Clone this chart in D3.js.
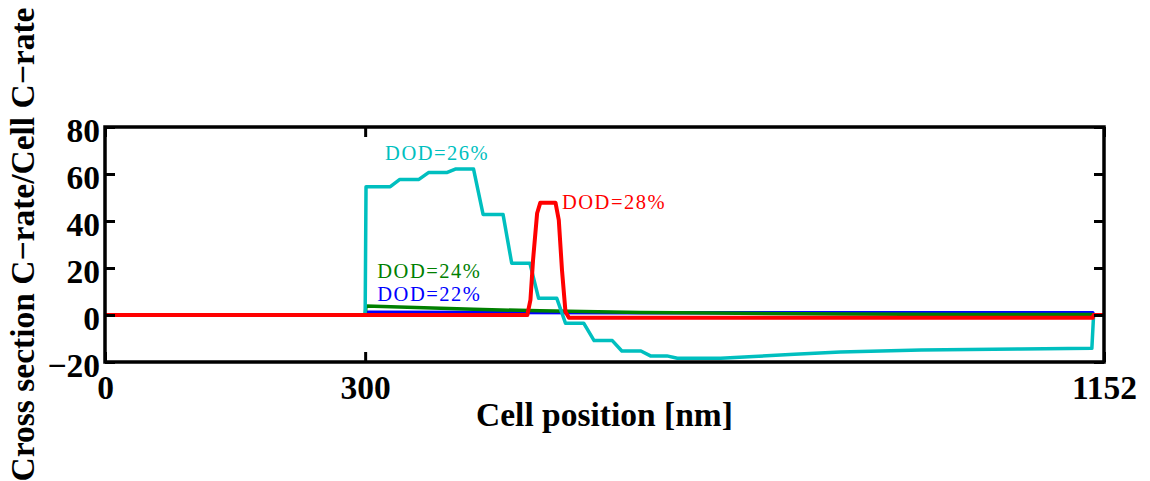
<!DOCTYPE html>
<html>
<head>
<meta charset="utf-8">
<script src="https://cdn.jsdelivr.net/npm/d3@7"></script>
<style>
  html, body { margin: 0; padding: 0; background: #fff; }
  svg { display: block; }
</style>
</head>
<body>
<svg id="chart" width="1150" height="481"></svg>
<script>
// ---- data ----
const xTicks = [0, 300, 1152];
const yTicks = [-20, 0, 20, 40, 60, 80];

const dod22X = [0, 300, 301, 600, 1139, 1140, 1152];
const dod22Y = [0, 0, 1.2, 1.0, 1.0, 0, 0];

const dod24X = [0, 300, 301, 425, 502, 618, 700, 848, 1000, 1139, 1140, 1152];
const dod24Y = [0, 0, 3.8, 2.4, 1.8, 1.1, 0.8, 0.4, 0.25, 0.2, 0, 0];

const dod26X = [0, 300, 301, 329, 340, 362, 373, 394, 404, 425, 436, 459, 469, 490, 500, 521, 531, 552, 564, 585, 596, 618, 629, 648, 660, 710, 748, 795, 848, 941, 1056, 1138, 1140, 1152];
const dod26Y = [0, 0, 54.6, 54.6, 57.7, 57.7, 60.6, 60.6, 62.1, 62.1, 42.8, 42.8, 22, 22, 7.1, 7.1, -3.5, -3.5, -10.9, -10.9, -15.3, -15.3, -17.4, -17.4, -18.4, -18.4, -17.7, -16.7, -15.7, -14.9, -14.5, -14.2, 0, 0];

const dod28X = [0, 487, 490.6, 493.6, 498.3, 502, 519.5, 523.3, 527, 531, 535, 1139, 1140, 1152];
const dod28Y = [0, 0, 6.4, 23.4, 43.3, 47.8, 47.8, 40.4, 19, 1.4, -1.2, -1.2, 0, 0];

const seriesNames = ["DOD=22%", "DOD=24%", "DOD=26%", "DOD=28%"];
const seriesColors = ["#0000ff", "#008000", "#00bfbf", "#ff0000"];
const labelAnchorsX = [314, 314, 323, 527];
const labelAnchorsY = [6.0, 15.8, 66, 45];

// ---- chart ----
const svg = d3.select("#chart");
const L = 105, R = 1104, T = 127, B = 362;
const x = d3.scaleLinear().domain([0, 1152]).range([L, R]);
const y = d3.scaleLinear().domain([-20, 80]).range([B, T]);

const series = [
  d3.zip(dod22X, dod22Y),
  d3.zip(dod24X, dod24Y),
  d3.zip(dod26X, dod26Y),
  d3.zip(dod28X, dod28Y)
];

const line = d3.line().x(d => x(d[0])).y(d => y(d[1]));

const gLines = svg.append("g");
series.forEach((s, i) => {
  gLines.append("path")
    .attr("d", line(s))
    .attr("fill", "none")
    .attr("stroke", seriesColors[i])
    .attr("stroke-width", i === 3 ? 4 : 3.5)
    .attr("stroke-linejoin", "round");
});

// series labels
seriesNames.forEach((name, i) => {
  svg.append("text")
    .attr("x", x(labelAnchorsX[i]))
    .attr("y", y(labelAnchorsY[i]))
    .attr("font-family", "'Liberation Serif', serif")
    .attr("font-size", 20.5)
    .attr("letter-spacing", 1.5)
    .attr("fill", seriesColors[i])
    .text(name);
});

// axes (ticks inward on all sides)
const tickFont = "'Liberation Serif', serif";
const fmt = d => d < 0 ? "\u2212" + Math.abs(d) : String(d);
const axB = svg.append("g").attr("transform", `translate(0,${B})`)
  .call(d3.axisBottom(x).tickValues(xTicks).tickSizeInner(-10).tickSizeOuter(0).tickPadding(13).tickFormat(fmt));
const axT = svg.append("g").attr("transform", `translate(0,${T})`)
  .call(d3.axisTop(x).tickValues(xTicks).tickSizeInner(-10).tickSizeOuter(0).tickFormat(""));
const axL = svg.append("g").attr("transform", `translate(${L},0)`)
  .call(d3.axisLeft(y).tickValues(yTicks).tickSizeInner(-10).tickSizeOuter(0).tickPadding(5).tickFormat(fmt));
const axR = svg.append("g").attr("transform", `translate(${R},0)`)
  .call(d3.axisRight(y).tickValues(yTicks).tickSizeInner(-10).tickSizeOuter(0).tickFormat(""));

[axB, axT, axL, axR].forEach(g => {
  g.select(".domain").remove();
  g.selectAll(".tick line").attr("stroke", "#000").attr("stroke-width", 3);
  g.selectAll(".tick text")
    .attr("font-family", tickFont)
    .attr("font-weight", "bold")
    .attr("font-size", 33.5)
    .attr("fill", "#000");
});
axB.selectAll(".tick text").attr("dy", "0.71em");
axL.selectAll(".tick text").attr("dy", "0.44em");

// frame
svg.append("rect")
  .attr("x", L).attr("y", T)
  .attr("width", R - L).attr("height", B - T)
  .attr("fill", "none").attr("stroke", "#000").attr("stroke-width", 3.5);

// axis titles
svg.append("text")
  .attr("x", (L + R) / 2).attr("y", 426)
  .attr("text-anchor", "middle")
  .attr("font-family", tickFont).attr("font-weight", "bold").attr("font-size", 33.5)
  .text("Cell position [nm]");

svg.append("text")
  .attr("transform", `translate(34,244.5) rotate(-90)`)
  .attr("text-anchor", "middle")
  .attr("font-family", tickFont).attr("font-weight", "bold").attr("font-size", 33.5)
  .text("Cross section C\u2212rate/Cell C\u2212rate");
</script>
</body>
</html>
